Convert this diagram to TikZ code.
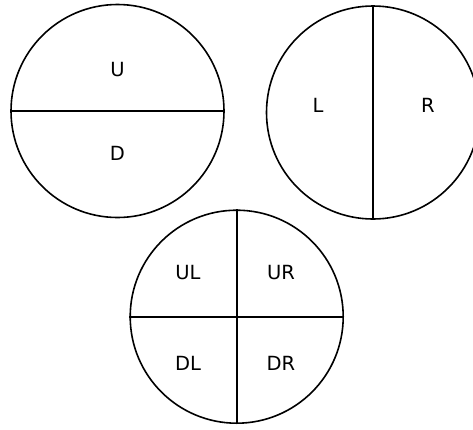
\documentclass[tikz,border=0pt]{standalone}
\usepackage{fontspec}
\setmainfont{DejaVu Sans}
\begin{document}
\begin{tikzpicture}[x=1pt,y=-1pt,
  disc/.style={draw=black,line width=1.6pt,circle,minimum size=213pt,inner sep=0pt},
  divider/.style={draw=black,line width=1.6pt},
  lbl/.style={font=\fontsize{19.5}{22}\selectfont,inner sep=0pt}]
\useasboundingbox (0,0) rectangle (473,429);
\begin{scope}
\clip (0,0) rectangle (473,429);
% circle 1
\node[disc] (c1) at (117.5,111) {};
\draw[divider] (c1.west) -- (c1.east);
\node[lbl] (u) at (117.5,70) {U};
\node[lbl] (d) at (117.5,153) {D};
% circle 2
\node[disc] (c2) at (373,112.5) {};
\draw[divider] (c2.north) -- (c2.south);
\node[lbl] (l) at (318,105) {L};
\node[lbl] (r) at (428,105) {R};
% circle 3
\node[disc] (c3) at (236.7,316.7) {};
\draw[divider] (c3.west) -- (c3.east);
\draw[divider] (c3.north) -- (c3.south);
\node[lbl] (ul) at (188,273) {UL};
\node[lbl] (ur) at (281,273) {UR};
\node[lbl] (dl) at (188,363) {DL};
\node[lbl] (dr) at (281,363) {DR};
\end{scope}
\end{tikzpicture}
\end{document}
